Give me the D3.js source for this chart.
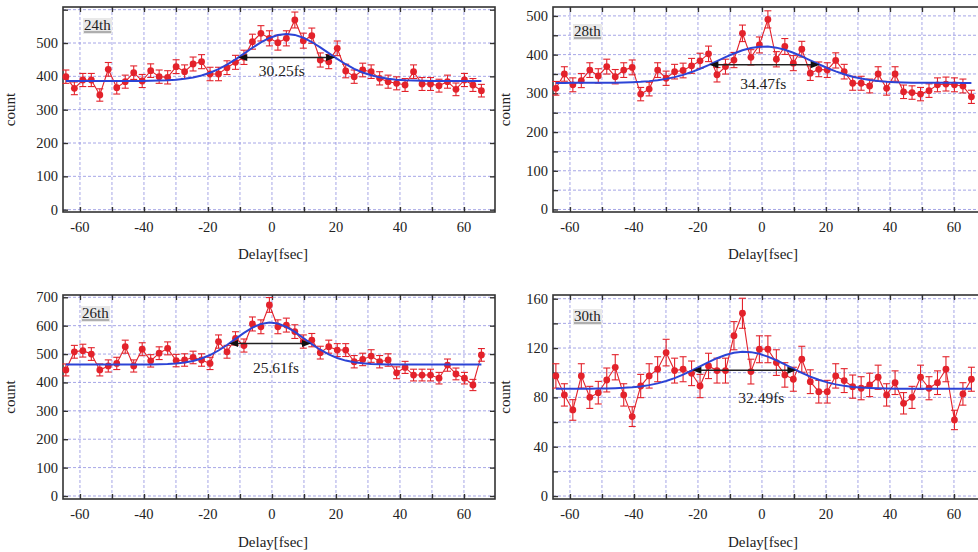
<!DOCTYPE html>
<html><head><meta charset="utf-8">
<script src="https://cdn.jsdelivr.net/npm/d3@7"></script>
<style>
body{margin:0;background:#fff}
svg{display:block}
text{font-family:"Liberation Serif","DejaVu Serif",serif;fill:#222}
</style>
</head><body>
<svg id="c" width="978" height="552"></svg>
<script>
// ---- data ----
const delays = [-64.4,-61.75,-59.1,-56.45,-53.8,-51.15,-48.5,-45.85,-43.2,-40.55,
  -37.9,-35.25,-32.6,-29.95,-27.3,-24.65,-22.0,-19.35,-16.7,-14.05,
  -11.4,-8.75,-6.1,-3.45,-0.8,1.85,4.5,7.15,9.8,12.45,
  15.1,17.75,20.4,23.05,25.7,28.35,31.0,33.65,36.3,38.95,
  41.6,44.25,46.9,49.55,52.2,54.85,57.5,60.15,62.8,65.45];
const harmonics = ["24th","28th","26th","30th"];
const counts24 = [399,364,389,389,344,421,366,384,411,386,
  417,399,397,429,414,437,444,407,407,426,
  442,457,504,529,514,501,514,569,507,522,
  449,444,484,416,399,419,414,394,384,379,
  374,414,377,377,372,384,361,389,374,357];
const counts28 = [313,350,322,333,360,345,369,343,360,367,
  298,311,360,339,356,359,371,384,402,348,
  369,386,455,393,425,491,388,421,378,414,
  352,362,360,385,356,326,326,319,350,313,
  350,304,302,298,307,322,324,322,319,291];
const counts26 = [444,508,512,500,444,458,467,526,458,517,
  476,503,520,477,479,488,479,467,544,508,
  555,530,606,596,673,596,602,579,544,549,
  505,526,514,514,473,481,493,473,479,434,
  453,426,426,426,415,461,430,415,391,497];
const counts30 = [97.4,82,69.8,97.4,80,83.8,94.1,104.4,82,64.4,
  89.2,97.4,102.8,116.3,101.7,102.8,99.5,89.2,105.5,101.7,
  101.7,130,148.2,100.9,119,119,108.2,98.2,94.7,110.9,
  92.7,84.6,84.6,97.4,93.6,88.7,87.4,90.1,96.3,82,
  91.9,75.2,80,96.3,87.4,91.9,102.8,61.7,82.8,94.7];
// Gaussian fit parameters (baseline, peak, centre, FWHM)
const fitBase = [386, 327, 463, 87];
const fitPeak = [527, 421, 611, 117];
const fitCenter = [4.6, 0.8, -0.6, -5.5];
const fitFWHM = [30.25, 34.47, 25.61, 32.49];
const fwhmLabels = ["30.25fs","34.47fs","25.61fs","32.49fs"];
const xTicks = [-60,-40,-20,0,20,40,60];
const xMinor = [-60,-50,-40,-30,-20,-10,0,10,20,30,40,50,60];
const yTicks24 = [0,100,200,300,400,500];
const yTicks28 = [0,100,200,300,400,500];
const yTicks26 = [0,100,200,300,400,500,600,700];
const yTicks30 = [0,40,80,120,160];
const yGrid24 = [0,100,200,300,400,500,600];
const yGrid28 = [0,50,100,150,200,250,300,350,400,450,500];
const yGrid26 = [0,100,200,300,400,500,600,700];
const yGrid30 = [0,20,40,60,80,100,120,140,160];

// ---- layout ----
const svg = d3.select("#c");
const panels = [
  {name:harmonics[0], counts:counts24, k:0, yTicks:yTicks24, yGrid:yGrid24, yDom:[-7,608],
   fr:{x:63,y:7,w:432,h:205}, lab:[21,23], txt:[3.1,401], xlabY:259, tickY:232, countX:11},
  {name:harmonics[1], counts:counts28, k:1, yTicks:yTicks28, yGrid:yGrid28, yDom:[-6.5,523],
   fr:{x:553,y:7,w:432,h:205}, lab:[21,29], txt:[0.4,311], xlabY:259, tickY:232, countX:506},
  {name:harmonics[2], counts:counts26, k:2, yTicks:yTicks26, yGrid:yGrid26, yDom:[-10.6,708],
   fr:{x:63,y:295,w:432,h:204}, lab:[19,23], txt:[1.25,433], xlabY:547, tickY:519, countX:11},
  {name:harmonics[3], counts:counts30, k:3, yTicks:yTicks30, yGrid:yGrid30, yDom:[-2.4,163],
   fr:{x:553,y:295,w:432,h:204}, lab:[21,26], txt:[-0.2,75.5], xlabY:547, tickY:519, countX:506}
];

const red = "#e3222b", blue = "#2c44d6", gridC = "#8f8fe0";

panels.forEach(p => {
  const f = p.fr;
  const x = d3.scaleLinear().domain([-65.3, 69.7]).range([f.x, f.x + f.w]);
  const y = d3.scaleLinear().domain(p.yDom).range([f.y + f.h, f.y]);
  const g = svg.append("g");

  // grid
  g.selectAll(null).data(xMinor).enter().append("line")
    .attr("x1", d => x(d)).attr("x2", d => x(d))
    .attr("y1", f.y).attr("y2", f.y + f.h)
    .attr("stroke", gridC).attr("stroke-width", 0.8).attr("stroke-dasharray", "3,2");
  const gv = p.yGrid.filter(v => y(v) > f.y + 1);
  g.selectAll(null).data(gv).enter().append("line")
    .attr("x1", f.x).attr("x2", f.x + f.w)
    .attr("y1", d => y(d)).attr("y2", d => y(d))
    .attr("stroke", gridC).attr("stroke-width", 0.8).attr("stroke-dasharray", "3,2");

  // frame
  g.append("rect").attr("x", f.x).attr("y", f.y).attr("width", f.w).attr("height", f.h)
    .attr("fill", "none").attr("stroke", "#333").attr("stroke-width", 1.6);

  // x ticks (inward, top and bottom)
  const xb = d3.axisBottom(x).tickValues(xMinor).tickSize(-5).tickFormat("");
  g.append("g").attr("transform", `translate(0,${f.y + f.h})`).call(xb)
    .call(s => s.select(".domain").remove())
    .selectAll("line").attr("stroke", "#333").attr("stroke-width", 1.4);
  const xt = d3.axisTop(x).tickValues(xMinor).tickSize(-5).tickFormat("");
  g.append("g").attr("transform", `translate(0,${f.y})`).call(xt)
    .call(s => s.select(".domain").remove())
    .selectAll("line").attr("stroke", "#333").attr("stroke-width", 1.4);
  g.selectAll(null).data(xTicks).enter().append("text")
    .attr("x", d => x(d)).attr("y", p.tickY).attr("text-anchor", "middle")
    .attr("font-size", 14.5).text(d => d);

  // y ticks
  const yl = d3.axisLeft(y).tickValues(gv).tickSize(-5).tickFormat("");
  g.append("g").attr("transform", `translate(${f.x},0)`).call(yl)
    .call(s => s.select(".domain").remove())
    .selectAll("line").attr("stroke", "#333").attr("stroke-width", 1.4);
  const yr = d3.axisRight(y).tickValues(gv).tickSize(-5).tickFormat("");
  g.append("g").attr("transform", `translate(${f.x + f.w},0)`).call(yr)
    .call(s => s.select(".domain").remove())
    .selectAll("line").attr("stroke", "#333").attr("stroke-width", 1.4);
  g.selectAll(null).data(p.yTicks).enter().append("text")
    .attr("x", f.x - 5).attr("y", d => y(d) + 5).attr("text-anchor", "end")
    .attr("font-size", 14.5).text(d => d);

  // axis titles
  g.append("text").attr("x", f.x + f.w / 2 - 6).attr("y", p.xlabY).attr("text-anchor", "middle")
    .attr("font-size", 15).text("Delay[fsec]");
  g.append("text").attr("transform", `translate(${p.countX + 4},${f.y + f.h / 2})rotate(-90)`)
    .attr("text-anchor", "middle").attr("font-size", 15).text("count");

  // harmonic label with grey box and underline
  const lx = f.x + p.lab[0], ly = f.y + p.lab[1];
  const lg = g.append("g");
  const lr = lg.append("rect").attr("fill", "#e9e9e9");
  const lt = lg.append("text").attr("x", lx).attr("y", ly).attr("font-size", 15).text(p.name);
  const bb = lt.node().getBBox();
  lr.attr("x", bb.x - 1).attr("y", bb.y + 1).attr("width", bb.width + 2).attr("height", bb.height);
  lg.append("line").attr("x1", bb.x).attr("x2", bb.x + bb.width).attr("y1", ly + 2).attr("y2", ly + 2)
    .attr("stroke", "#555").attr("stroke-width", 0.8);

  // data
  const pts = delays.map((d, i) => ({d, v: p.counts[i]}));
  const err = pts.map(o => Math.sqrt(o.v));
  g.append("path").datum(pts)
    .attr("d", d3.line().x(o => x(o.d)).y(o => y(o.v)))
    .attr("fill", "none").attr("stroke", red).attr("stroke-width", 1.1);
  const eb = g.selectAll(null).data(pts).enter().append("g").attr("stroke", red).attr("stroke-width", 1.1);
  eb.append("line").attr("x1", o => x(o.d)).attr("x2", o => x(o.d))
    .attr("y1", (o, i) => y(o.v - err[i])).attr("y2", (o, i) => y(o.v + err[i]));
  eb.append("line").attr("x1", o => x(o.d) - 3.5).attr("x2", o => x(o.d) + 3.5)
    .attr("y1", (o, i) => y(o.v - err[i])).attr("y2", (o, i) => y(o.v - err[i]));
  eb.append("line").attr("x1", o => x(o.d) - 3.5).attr("x2", o => x(o.d) + 3.5)
    .attr("y1", (o, i) => y(o.v + err[i])).attr("y2", (o, i) => y(o.v + err[i]));
  g.selectAll(null).data(pts).enter().append("circle")
    .attr("cx", o => x(o.d)).attr("cy", o => y(o.v)).attr("r", 3.4).attr("fill", red);

  // Gaussian fit evaluated at the delays
  const k = p.k, sig = fitFWHM[k] / 2.3548;
  const fit = delays.map(d => ({d, v: fitBase[k] + (fitPeak[k] - fitBase[k]) * Math.exp(-0.5 * ((d - fitCenter[k]) / sig) ** 2)}));
  g.append("path").datum(fit)
    .attr("d", d3.line().x(o => x(o.d)).y(o => y(o.v)))
    .attr("fill", "none").attr("stroke", blue).attr("stroke-width", 2);

  // FWHM arrow
  const hm = (fitBase[k] + fitPeak[k]) / 2;
  const x1 = x(fitCenter[k] - fitFWHM[k] / 2), x2 = x(fitCenter[k] + fitFWHM[k] / 2), ya = y(hm);
  g.append("line").attr("x1", x1 + 4).attr("x2", x2 - 4).attr("y1", ya).attr("y2", ya)
    .attr("stroke", "#222").attr("stroke-width", 1.4);
  g.append("path").attr("d", `M${x1},${ya}l9,-3.5v7z`).attr("fill", "#111");
  g.append("path").attr("d", `M${x2},${ya}l-9,-3.5v7z`).attr("fill", "#111");
  g.append("text").attr("x", x(p.txt[0])).attr("y", y(p.txt[1])).attr("text-anchor", "middle")
    .attr("font-size", 15.5).text(fwhmLabels[k]);
});
</script>
</body></html>
